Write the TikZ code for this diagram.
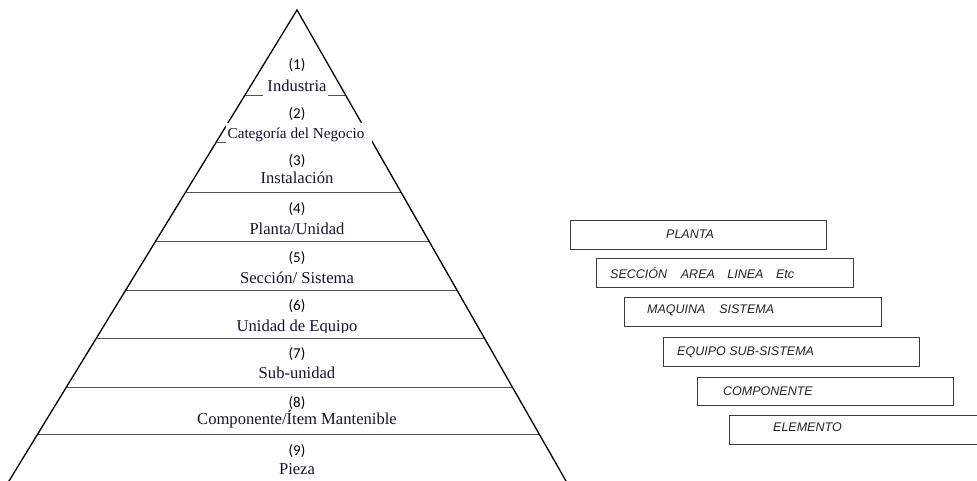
\documentclass[tikz,border=0pt]{standalone}
\usepackage{fontspec}
\setmainfont{Liberation Serif}
\newfontfamily\numfont{Carlito}
\newfontfamily\boxfont{Liberation Sans}
\usetikzlibrary{calc}
\definecolor{namecol}{RGB}{20,20,45}
\definecolor{boxtxt}{RGB}{35,35,35}
\definecolor{hline}{RGB}{85,85,85}
\definecolor{boxline}{RGB}{60,60,60}
\tikzset{
  edge/.style={draw=black,line width=1.3pt},
  level/.style={draw=hline,line width=1pt},
  lvlname/.style={anchor=base,inner sep=0pt,text=namecol,font=\fontsize{16.6}{18}\selectfont},
  lvlnum/.style={anchor=center,inner sep=0pt,text=black,font=\numfont\fontsize{15}{17}\selectfont},
  hbox/.style={draw=boxline,line width=1pt,anchor=north west,inner sep=0pt},
  hboxtxt/.style={anchor=west,inner sep=0pt,text=boxtxt,font=\boxfont\itshape\fontsize{12.5}{14}\selectfont},
}
\begin{document}
\begin{tikzpicture}[x=1pt,y=-1pt]
\useasboundingbox (0,0) rectangle (977,481);
% pyramid
\coordinate (apex) at (297,10);
\coordinate (bl) at ({297-0.6115*(483-10)},483);
\coordinate (br) at ({297+0.5711*(483-10)},483);
% clipped level 6 name (descenders cut by the line)
\begin{scope}
\clip (100,290) rectangle (480,332);
\node[lvlname] (n6) at (297,331) {Unidad de Equipo};
\end{scope}
\foreach \y in {96,143,193,241,290,338,387,434}
  \draw[level] ({297-0.6115*(\y-10)},\y) -- ({297+0.5711*(\y-10)},\y);
\draw[edge,line join=miter] (bl) -- (apex) -- (br);
% white backgrounds of the top labels
\fill[white] (263,79) rectangle (328,99);
\fill[white] (226,123) rectangle (371.5,145.5);
% numbers
\node[lvlnum] (k1) at (297,65) {(1)};
\node[lvlnum] (k2) at (297,114) {(2)};
\node[lvlnum] (k3) at (297,161) {(3)};
\node[lvlnum] (k4) at (297,209) {(4)};
\node[lvlnum] (k5) at (297,258) {(5)};
\node[lvlnum] (k6) at (297,306) {(6)};
\node[lvlnum] (k7) at (297,354) {(7)};
\node[lvlnum] (k8) at (297,403) {(8)};
\node[lvlnum] (k9) at (297,451) {(9)};
% names
\node[lvlname] (n1) at (297,92) {Industria};
\node[lvlname,font=\fontsize{15.2}{17}\selectfont] (n2) at (296,139) {Categoría del Negocio};
\node[lvlname] (n3) at (297,184) {Instalación};
\node[lvlname] (n4) at (297,234) {Planta/Unidad};
\node[lvlname] (n5) at (297,283) {Sección/ Sistema};
\node[lvlname] (n7) at (297,378) {Sub-unidad};
\node[lvlname] (n8) at (297,424) {Componente/Ítem Mantenible};
\node[lvlname] (n9) at (297,474) {Pieza};
% right-hand boxes
\node[hbox,minimum width=256pt,minimum height=29pt] (b1) at (570,220) {};
\node[hbox,minimum width=257pt,minimum height=29pt] (b2) at (596,258) {};
\node[hbox,minimum width=257pt,minimum height=29pt] (b3) at (624,297) {};
\node[hbox,minimum width=256pt,minimum height=29pt] (b4) at (663,337) {};
\node[hbox,minimum width=256pt,minimum height=28pt] (b5) at (697,377) {};
\node[hbox,minimum width=270pt,minimum height=29pt] (b6) at (729,415) {};
\node[hboxtxt] (t1) at (666,234) {PLANTA};
\node[hboxtxt] (t2) at (610,273) {SECCIÓN\hspace{1.1em}AREA\hspace{1em}LINEA\hspace{1em}Etc};
\node[hboxtxt] (t3) at (647,310) {MAQUINA\hspace{1.1em}SISTEMA};
\node[hboxtxt] (t4) at (677,352) {EQUIPO SUB-SISTEMA};
\node[hboxtxt] (t5) at (723,391) {COMPONENTE};
\node[hboxtxt] (t6) at (773,427) {ELEMENTO};
\end{tikzpicture}
\end{document}
